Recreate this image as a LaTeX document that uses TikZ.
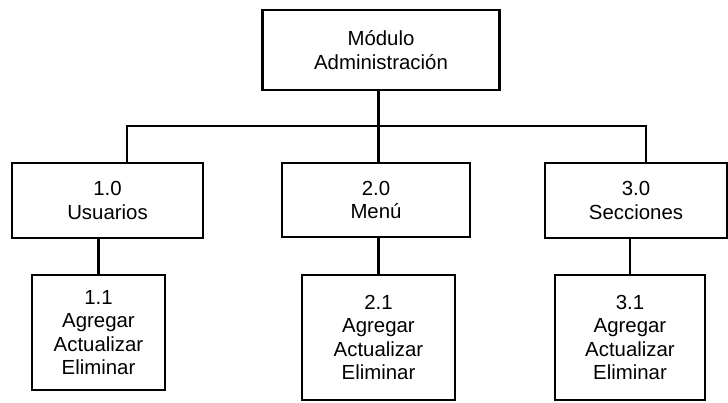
\documentclass[tikz,border=0pt]{standalone}
\usepackage{fontspec}
\setmainfont{Liberation Sans}
\usepackage{tikz}
\usetikzlibrary{calc,positioning}

\begin{document}
\begin{tikzpicture}[x=0.025cm,y=-0.025cm]
  \tikzset{caja/.style={draw,line width=1.8pt,rectangle,align=center,inner sep=0pt,
      font=\fontsize{14.5}{16.5}\selectfont},
    linea/.style={line width=1.8pt}}%
  \useasboundingbox (0,0) rectangle (728,402);

  \node [caja,minimum width=237*0.025cm,minimum height=80*0.025cm] (mod) at (381,50)
  {M\'odulo\\ Administraci\'on};

  \node [caja,minimum width=191*0.025cm,minimum height=75*0.025cm] (usu) at (107.5,200.5)
  {1.0\\ Usuarios};
  \node [caja,minimum width=188*0.025cm,minimum height=74*0.025cm] (men) at (376,200)
  {2.0\\ Men\'u};
  \node [caja,minimum width=182*0.025cm,minimum height=75*0.025cm] (sec) at (636,200.5)
  {3.0\\ Secciones};

  \node [caja,minimum width=133*0.025cm,minimum height=115*0.025cm] (usuA) at (98.5,332.5)
  {1.1\\ Agregar\\ Actualizar\\ Eliminar};
  \node [caja,minimum width=153*0.025cm,minimum height=125*0.025cm] (menA) at (378.5,337.5)
  {2.1\\ Agregar\\ Actualizar\\ Eliminar};
  \node [caja,minimum width=150*0.025cm,minimum height=125*0.025cm] (secA) at (630,337.5)
  {3.1\\ Agregar\\ Actualizar\\ Eliminar};

  % barra horizontal
  \coordinate (busL) at (127,126);
  \coordinate (busR) at (646,126);
  \draw [linea] (busL |- usu.north) -- (busL) -- (busR) -- (busR |- sec.north);
  \draw [linea] (mod.south -| menA.north) -- (menA.north |- men.north);

  \draw [linea] (usuA.north |- usu.south) -- (usuA.north);
  \draw [linea] (menA.north |- men.south) -- (menA.north);
  \draw [linea] (secA.north |- sec.south) -- (secA.north);
\end{tikzpicture}
\end{document}
